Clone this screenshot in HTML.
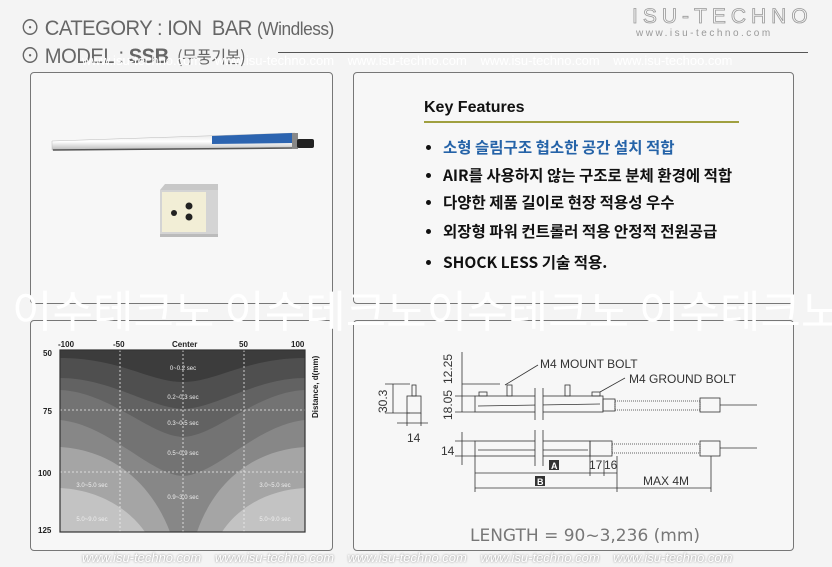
<!DOCTYPE html>
<html><head><meta charset="utf-8">
<style>
*{margin:0;padding:0;box-sizing:border-box}
body{width:832px;height:567px;background:#f4f4f4;position:relative;overflow:hidden;font-family:"Liberation Sans","Noto Sans CJK KR",sans-serif}
.abs{position:absolute}
.panel{position:absolute;background:#f7f7f7;border:1px solid #777;border-radius:4px}
.h{color:#666;font-size:21px;letter-spacing:-0.5px;transform-origin:0 0;transform:scaleX(0.96);white-space:nowrap}
.feat{position:absolute;left:426px;font-size:15.5px;font-weight:bold;color:#111;font-family:"Noto Sans CJK KR",sans-serif;white-space:nowrap;line-height:18px}
.feat:before{content:"";position:absolute;left:0;top:7px;width:5px;height:5px;border-radius:50%;background:#111}
.feat span{margin-left:17px}
</style></head><body>
<div class="abs h" style="left:20px;top:12px">⊙ CATEGORY : ION&nbsp; BAR <span style="font-size:18px">(Windless)</span></div>
<div class="abs h" style="left:20px;top:40px">⊙ MODEL : <b>SSB</b> <span style="font-size:17px;font-family:'Noto Sans CJK KR',sans-serif">&nbsp;(무풍기본)</span></div>
<div class="abs" style="left:278px;top:52px;width:530px;height:1px;background:#555"></div>
<div class="abs" style="left:632px;top:5px;font-size:21px;letter-spacing:5px;color:#f4f4f4;-webkit-text-stroke:0.8px #999">ISU-TECHNO</div>
<div class="abs" style="left:636px;top:28px;font-size:10px;letter-spacing:2.5px;color:#999">www.isu-techno.com</div>
<div class="abs" style="left:82px;top:53px;font-size:13px;color:#fff;word-spacing:10px;white-space:nowrap">www.isu-techno.com www.isu-techno.com www.isu-techno.com www.isu-techno.com www.isu-techoo.com</div>

<div class="panel" style="left:30px;top:72px;width:303px;height:232px"></div>
<div class="panel" style="left:353px;top:72px;width:441px;height:232px"></div>
<div class="panel" style="left:30px;top:320px;width:303px;height:231px"></div>
<div class="panel" style="left:353px;top:320px;width:441px;height:231px"></div>

<svg class="abs" style="left:0;top:0" width="832" height="567">
<defs><linearGradient id="bar" x1="0" y1="0" x2="0" y2="1"><stop offset="0" stop-color="#e4e4e4"/><stop offset=".5" stop-color="#fff"/><stop offset="1" stop-color="#bbb"/></linearGradient></defs>
<polygon points="52,141 295,133 295,147 52,150" fill="url(#bar)" stroke="#bbb" stroke-width=".5"/>
<line x1="53" y1="150" x2="295" y2="148" stroke="#555" stroke-width="1.5"/>
<polygon points="212,136 292,133 292,143 212,144" fill="#2c64b0"/>
<rect x="292" y="133" width="6" height="16" fill="#888"/>
<rect x="297" y="139" width="17" height="9" fill="#222" rx="2"/>
<polygon points="160,190 165,184 218,184 218,190" fill="#c8c8c8"/>
<rect x="160" y="190" width="58" height="44" fill="#d4d4d4"/>
<rect x="162" y="192" width="44" height="40" fill="#f2eed6"/>
<circle cx="189" cy="206" r="3.5" fill="#222"/><circle cx="189" cy="217" r="3.5" fill="#222"/><circle cx="174" cy="213" r="3" fill="#222"/>
<rect x="160" y="234" width="58" height="3" fill="#bbb"/>
</svg>

<div class="abs" style="left:424px;top:99px;font-size:16px;font-weight:bold;color:#111">Key Features</div>
<div class="abs" style="left:424px;top:121px;width:315px;height:2px;background:#a0a040"></div>
<div class="feat" style="top:138px;color:#2563a8"><span>소형 슬림구조 협소한 공간 설치 적합</span></div>
<div class="feat" style="top:166px"><span>AIR를 사용하지 않는 구조로 분체 환경에 적합</span></div>
<div class="feat" style="top:193px"><span>다양한 제품 길이로 현장 적용성 우수</span></div>
<div class="feat" style="top:222px"><span>외장형 파워 컨트롤러 적용 안정적 전원공급</span></div>
<div class="feat" style="top:253px"><span>SHOCK LESS 기술 적용.</span></div>

<svg class="abs" style="left:0;top:0" width="832" height="567" font-family="Liberation Sans" font-weight="bold">
<rect x="60" y="350" width="245" height="182" fill="#c3c3c3"/>
<path d="M60,488 C100,490 130,510 145,532 L222,532 C236,510 265,490 305,488 L305,350 L60,350Z" fill="#a5a5a5"/>
<path d="M60,447 C110,450 150,480 170,532 L197,532 C215,480 255,450 305,447 L305,350 L60,350Z" fill="#878787"/>
<path d="M60,420 C110,425 150,475 183,476 C216,475 256,425 305,420 L305,350 L60,350Z" fill="#737373"/>
<path d="M60,390 C110,392 150,436 183,437 C216,436 256,392 305,390 L305,350 L60,350Z" fill="#626262"/>
<path d="M60,378 C110,378 150,408 183,409 C216,408 256,378 305,378 L305,350 L60,350Z" fill="#4f4f4f"/>
<path d="M60,358 C120,358 150,382 183,382 C216,382 246,358 305,358 L305,350 L60,350Z" fill="#3c3c3c"/>
<g stroke="#eee" stroke-dasharray="2,2" stroke-width=".8"><line x1="120" y1="350" x2="120" y2="532"/><line x1="183" y1="350" x2="183" y2="532"/><line x1="244" y1="350" x2="244" y2="532"/><line x1="60" y1="410" x2="305" y2="410"/><line x1="60" y1="472" x2="305" y2="472"/></g>
<rect x="60" y="350" width="245" height="182" fill="none" stroke="#333" stroke-width="1.2"/>
<g font-size="8" fill="#222"><text x="58" y="347">-100</text><text x="113" y="347">-50</text><text x="172" y="347">Center</text><text x="239" y="347">50</text><text x="291" y="347">100</text>
<text x="43" y="356">50</text><text x="43" y="414">75</text><text x="38" y="476">100</text><text x="38" y="533">125</text>
<text transform="translate(318,418) rotate(-90)" font-size="8">Distance, d(mm)</text></g>
<g font-size="6" fill="#eee" font-weight="normal" text-anchor="middle"><text x="183" y="370">0~0.2 sec</text><text x="183" y="399">0.2~0.3 sec</text><text x="183" y="425">0.3~0.5 sec</text><text x="183" y="455">0.5~0.9 sec</text><text x="183" y="499">0.9~3.0 sec</text><text x="92" y="487">3.0~5.0 sec</text><text x="275" y="487">3.0~5.0 sec</text><text x="92" y="521">5.0~9.0 sec</text><text x="275" y="521">5.0~9.0 sec</text></g>
</svg>

<svg class="abs" style="left:0;top:0" width="832" height="567" font-family="Liberation Sans" fill="none" stroke="#333" stroke-width=".8">
<line x1="462" y1="352" x2="462" y2="412"/><line x1="462" y1="384" x2="500" y2="384"/><line x1="455" y1="396" x2="475" y2="396"/><line x1="455" y1="412" x2="475" y2="412"/>
<rect x="475" y="396" width="128" height="16"/><line x1="478" y1="406" x2="600" y2="404"/>
<rect x="535" y="390" width="8" height="28" fill="#f7f7f7" stroke="none"/><line x1="535" y1="388" x2="535" y2="420"/><line x1="543" y1="388" x2="543" y2="420"/>
<rect x="507" y="385" width="5" height="11"/><rect x="565" y="385" width="5" height="11"/>
<rect x="479" y="392" width="8" height="4"/><rect x="592" y="392" width="8" height="4"/>
<line x1="505" y1="385" x2="538" y2="365"/><line x1="600" y1="392" x2="625" y2="378"/>
<rect x="603" y="399" width="12" height="12"/><rect x="615" y="401" width="85" height="9" stroke-dasharray="1,1"/><rect x="700" y="398" width="20" height="14"/><line x1="720" y1="405" x2="757" y2="405"/>
<line x1="385" y1="384" x2="410" y2="384"/><line x1="385" y1="413" x2="410" y2="413"/><line x1="393" y1="384" x2="393" y2="413"/>
<rect x="407" y="396" width="14" height="17"/><rect x="412" y="385" width="4" height="11"/>
<line x1="397" y1="423" x2="428" y2="423"/><line x1="407" y1="413" x2="407" y2="426"/><line x1="421" y1="413" x2="421" y2="426"/>
<line x1="462" y1="432" x2="462" y2="465"/><line x1="455" y1="441" x2="475" y2="441"/><line x1="455" y1="456" x2="475" y2="456"/>
<rect x="475" y="441" width="115" height="15"/><line x1="478" y1="450" x2="588" y2="450"/>
<rect x="535" y="430" width="8" height="36" fill="#f7f7f7" stroke="none"/><line x1="535" y1="430" x2="535" y2="466"/><line x1="543" y1="430" x2="543" y2="466"/>
<rect x="590" y="441" width="22" height="15"/><rect x="612" y="444" width="88" height="9" stroke-dasharray="1,1"/><rect x="700" y="441" width="20" height="15"/><line x1="720" y1="448" x2="757" y2="448"/>
<line x1="475" y1="456" x2="475" y2="492"/><line x1="590" y1="456" x2="590" y2="476"/><line x1="604" y1="460" x2="604" y2="476"/><line x1="617" y1="456" x2="617" y2="492"/><line x1="711" y1="456" x2="711" y2="492"/>
<line x1="475" y1="473" x2="617" y2="473"/><line x1="475" y1="488" x2="711" y2="488"/>
<g fill="#333" stroke="none" font-size="12"><text x="540" y="368">M4 MOUNT BOLT</text><text x="629" y="383">M4 GROUND BOLT</text>
<text transform="translate(452,384) rotate(-90)">12.25</text><text transform="translate(452,420) rotate(-90)">18.05</text><text transform="translate(387,413) rotate(-90)">30.3</text>
<text x="407" y="442">14</text><text x="441" y="455">14</text><text x="589" y="469">17</text><text x="604" y="469">16</text><text x="643" y="485">MAX 4M</text>
<rect x="549" y="460" width="10" height="10"/><rect x="535" y="476" width="10" height="10"/>
<text x="551" y="469" fill="#fff" font-size="9" font-weight="bold">A</text><text x="537" y="485" fill="#fff" font-size="9" font-weight="bold">B</text></g>
</svg>
<div class="abs" style="left:470px;top:526px;font-size:17px;color:#777;font-family:'DejaVu Sans',sans-serif">LENGTH = 90~3,236 (mm)</div>

<div class="abs" style="left:12px;top:283px;font-size:44px;color:#fff;font-family:'Noto Sans CJK KR',sans-serif;white-space:nowrap;line-height:50px">이수테크노 이수테크노이수테크노 이수테크노</div>
<div class="abs" style="left:82px;top:550px;font-size:13px;color:#fff;font-style:italic;text-shadow:0 0 2px #888;word-spacing:10px;white-space:nowrap">www.isu-techno.com www.isu-techno.com www.isu-techno.com www.isu-techno.com www.isu-techno.com</div>
</body></html>
